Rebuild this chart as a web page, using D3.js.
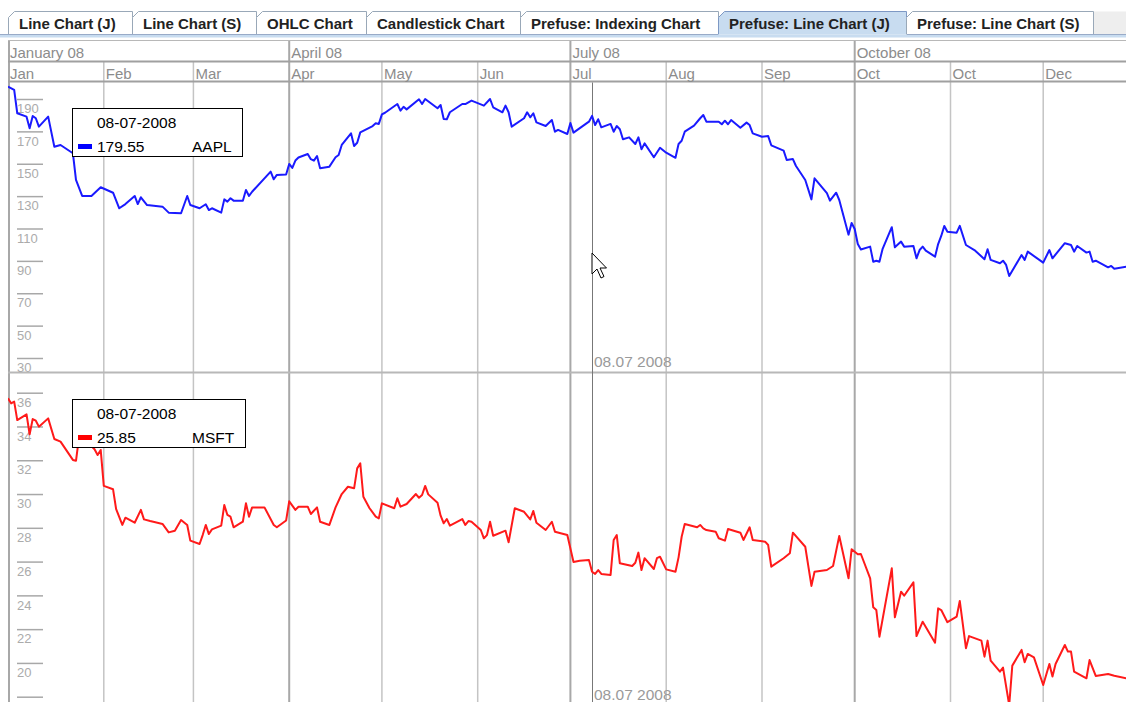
<!DOCTYPE html>
<html><head><meta charset="utf-8">
<script src="https://cdn.jsdelivr.net/npm/d3@7"></script>
<style>
html,body{margin:0;padding:0;background:#fff;overflow:hidden}
svg{display:block;font-family:"Liberation Sans",Arial,sans-serif}
</style></head>
<body><svg id="chart" width="1126" height="702"></svg>
<script>
// ---------- data ----------
const tabLabels = ["Line Chart (J)","Line Chart (S)","OHLC Chart","Candlestick Chart","Prefuse: Indexing Chart","Prefuse: Line Chart (J)","Prefuse: Line Chart (S)"];
const selectedTab = 5;
const quarterLabels = ["January 08","April 08","July 08","October 08"];
const monthLabels = ["Jan","Feb","Mar","Apr","May","Jun","Jul","Aug","Sep","Oct","Oct","Dec"];
const aaplTicks = [30,50,70,90,110,130,150,170,190];
const msftTicks = [18,20,22,24,26,28,30,32,34,36];
const msftTickLabels = ["","20","22","24","26","28","30","32","34","36"]; // 18 falls below the window edge
const cursorDayOfYear = 189;            // 08-07-2008
const cursorLabel = "08.07 2008";
const legendDate = "08-07-2008";
const aaplLegendValue = "179.55";
const msftLegendValue = "25.85";

// [day of year 2008 (0 = 1 Jan), closing price]
const aaplPoints = [[0,197.6],[2,195.6],[3,181.2],[6,179.1],[7,171.9],[8,179.5],[9,178.1],[10,172.9],[13,179.1],[15,160.5],[17,161.6],[21,156.5],[22,140.0],[24,130.1],[27,130.1],[30,135.5],[34,132.1],[36,122.5],[38,125.1],[41,130.1],[42,125.1],[43,129.3],[45,124.5],[50,123.5],[52,119.8],[56,119.4],[58,130.1],[59,124.5],[62,122.5],[64,125.0],[65,121.4],[66,122.5],[69,119.8],[70,128.0],[71,126.6],[72,128.7],[73,127.2],[76,127.2],[77,133.8],[78,130.1],[79,132.7],[85,145.1],[86,140.4],[87,143.1],[90,143.4],[91,149.9],[92,147.4],[93,152.0],[94,153.9],[97,156.0],[98,152.8],[99,151.9],[100,154.8],[101,147.2],[104,148.2],[106,154.0],[107,155.4],[108,161.6],[111,168.8],[112,161.0],[113,163.0],[114,169.4],[118,173.3],[119,175.0],[120,174.6],[121,180.5],[122,181.5],[126,186.9],[127,182.8],[128,185.2],[129,183.6],[133,189.8],[134,186.9],[135,190.0],[139,184.3],[140,186.3],[141,177.7],[142,177.5],[143,181.8],[147,186.9],[148,186.9],[150,189.0],[154,185.9],[156,190.0],[157,184.9],[160,181.8],[161,185.9],[162,181.8],[163,172.9],[167,178.1],[168,181.8],[169,178.7],[170,181.2],[171,175.6],[174,173.3],[176,177.0],[177,169.8],[178,170.9],[181,168.4],[182,175.2],[183,169.2],[188,176.0],[189,179.55],[190,173.9],[191,177.5],[192,172.5],[195,174.6],[196,169.8],[197,173.3],[198,171.3],[199,165.1],[201,166.3],[203,162.2],[204,166.3],[205,158.9],[206,162.6],[209,154.0],[211,159.9],[213,156.8],[216,153.7],[217,162.2],[218,164.2],[219,169.8],[222,173.5],[224,178.1],[225,180.1],[226,176.0],[230,176.0],[231,174.4],[232,176.6],[233,174.4],[234,177.0],[237,172.3],[239,175.4],[240,173.9],[241,168.8],[244,166.7],[246,167.1],[247,161.4],[251,158.1],[252,152.3],[254,152.9],[255,148.6],[258,140.0],[260,128.0],[261,141.0],[265,131.8],[266,127.2],[268,132.1],[269,127.6],[272,106.2],[273,113.4],[274,109.7],[275,100.4],[276,97.0],[279,98.8],[280,89.5],[281,90.1],[282,89.5],[283,97.2],[286,110.8],[287,98.4],[289,101.9],[290,98.8],[293,99.2],[294,91.6],[295,96.7],[296,98.8],[297,96.3],[300,92.6],[301,100.4],[302,105.4],[303,111.6],[304,108.0],[307,107.4],[308,111.6],[310,99.8],[313,96.3],[316,91.0],[317,97.2],[318,90.6],[321,88.5],[322,90.1],[323,87.5],[324,80.7],[328,93.6],[329,90.6],[330,95.7],[335,88.9],[337,96.7],[338,91.6],[342,100.9],[344,99.8],[345,95.7],[346,99.2],[349,95.1],[350,95.7],[351,89.5],[352,90.1],[356,86.0],[357,86.9],[358,85.2],[362,86.4],[365,85.4]];

const msftPoints = [[0,35.67],[1,35.37],[2,35.47],[3,34.38],[6,34.72],[7,33.54],[8,34.44],[9,34.34],[10,33.99],[13,34.48],[15,33.26],[17,33.10],[21,32.02],[22,31.97],[23,33.38],[25,33.2],[28,32.65],[29,32.31],[30,32.61],[31,30.48],[34,30.28],[35,29.1],[37,28.17],[38,28.6],[41,28.3],[43,29.06],[44,28.5],[46,28.4],[50,28.23],[52,27.73],[54,27.83],[56,28.46],[58,28.17],[59,27.24],[62,27.04],[63,27.57],[64,28.17],[65,27.63],[66,27.91],[69,28.13],[70,29.35],[71,28.76],[72,28.66],[73,28.03],[76,28.36],[77,29.45],[78,28.66],[79,29.21],[83,29.21],[86,28.17],[87,28.03],[90,28.43],[91,29.57],[93,29.06],[94,29.25],[97,29.25],[98,28.82],[100,29.21],[101,28.36],[104,28.17],[106,29.21],[108,30.0],[110,30.43],[112,30.34],[113,31.52],[114,31.82],[115,29.84],[117,29.16],[119,28.66],[120,28.56],[121,29.45],[125,29.16],[126,29.75],[127,29.25],[129,29.41],[132,30.0],[133,29.78],[134,29.94],[135,30.48],[136,29.98],[139,29.49],[140,28.72],[141,28.27],[142,28.52],[143,28.13],[147,28.52],[148,28.17],[149,28.4],[150,28.36],[153,27.87],[154,27.38],[155,27.57],[156,28.36],[157,27.53],[161,27.83],[162,27.14],[164,29.16],[167,28.95],[169,28.5],[170,29.0],[171,28.3],[174,27.87],[176,28.36],[177,27.77],[181,27.57],[183,25.98],[185,26.05],[188,26.09],[189,25.4],[190,25.27],[191,25.5],[192,25.27],[195,25.21],[196,27.28],[197,27.57],[198,25.9],[202,25.74],[203,25.93],[204,26.53],[205,25.5],[206,26.2],[209,25.56],[210,26.2],[211,26.29],[213,25.54],[216,25.4],[217,26.25],[218,27.47],[219,28.23],[223,28.03],[224,28.17],[225,27.97],[226,27.87],[229,27.77],[230,27.38],[232,27.24],[233,27.93],[237,27.71],[238,27.28],[240,28.03],[241,27.28],[245,27.18],[246,26.98],[247,25.7],[251,26.2],[253,26.49],[254,27.71],[258,26.88],[260,24.56],[261,25.4],[265,25.5],[267,25.74],[269,27.52],[272,25.01],[273,26.73],[275,26.43],[276,26.45],[279,25.01],[280,23.29],[281,23.13],[282,21.55],[286,25.6],[287,22.7],[289,24.22],[290,23.98],[293,24.77],[294,21.59],[296,22.44],[300,21.2],[301,23.23],[302,23.13],[304,22.41],[307,22.74],[308,23.67],[310,20.87],[311,21.59],[315,21.32],[316,20.37],[317,21.32],[318,20.13],[321,19.48],[322,19.72],[324,17.5],[325,19.84],[328,20.77],[329,20.04],[330,20.53],[332,20.33],[335,18.69],[337,19.94],[338,19.19],[339,19.94],[342,21.06],[343,20.67],[344,20.67],[345,19.48],[349,19.09],[350,20.17],[352,19.23],[356,19.34],[358,19.24],[362,19.09],[365,19.0]];

// ---------- layout ----------
const W = 1126, H = 702;
const yearStart = new Date(2008,0,1), yearEnd = new Date(2009,0,1);
const dayToDate = d => d3.timeDay.offset(yearStart, d);
const x = d3.scaleTime().domain([yearStart, yearEnd]).range([8, 1139]);
const plotLeft = 8;
const headTop = 40.5, headMid = 61.5, headBottom = 81.5, divider = 372.5;
const topPanel = {y0: headBottom, y1: divider - 1};
const botPanel = {y0: divider + 1, y1: H};
const yA = d3.scaleLinear().domain([30,190]).range([358,99]);
const yM = d3.scaleLinear().domain([18,36]).range([696.7,392.7]);

const svg = d3.select("#chart");
svg.append("rect").attr("width",W).attr("height",H).attr("fill","#fff");

// ---------- tabs ----------
const tabEdges = [8,132,256,366,520,718,906,1093];
const tabTop = 11.5, tabBot = 34.5;
const tabG = svg.append("g");
tabG.append("rect").attr("x",1093).attr("y",tabTop).attr("width",W-1093).attr("height",tabBot-tabTop).attr("fill","#eeeeee");
tabLabels.forEach((t,i)=>{
  const x0 = tabEdges[i]+0.5, x1 = tabEdges[i+1]+0.5;
  const p = d3.path();
  p.moveTo(x0,tabBot); p.lineTo(x0,tabTop+6); p.lineTo(x0+6,tabTop); p.lineTo(x1,tabTop); p.lineTo(x1,tabBot);
  tabG.append("path").attr("d",p.toString())
    .attr("fill", i===selectedTab ? "#c8dcf0" : "#ffffff")
    .attr("stroke", i===selectedTab ? "#7d98c4" : "#99a8b8").attr("stroke-width",1);
  tabG.append("text").attr("x",tabEdges[i]+11).attr("y",29)
    .attr("font-size","15px").attr("font-weight","bold").attr("fill","#222").text(t);
});
tabG.append("rect").attr("x",0).attr("y",tabBot).attr("width",W).attr("height",3).attr("fill","#c8dcf0");
tabG.append("line").attr("x1",0).attr("x2",tabEdges[selectedTab]).attr("y1",tabBot).attr("y2",tabBot).attr("stroke","#99abc8");
tabG.append("line").attr("x1",tabEdges[selectedTab+1]+1).attr("x2",W).attr("y1",tabBot).attr("y2",tabBot).attr("stroke","#99abc8");

// ---------- header ----------
const months = d3.timeMonth.range(yearStart, yearEnd);
const quarters = months.filter(m => m.getMonth()%3===0);
const grid = svg.append("g");
grid.selectAll(".mline").data(months.filter(m=>m.getMonth()%3!==0)).join("line")
  .attr("x1",d=>x(d)).attr("x2",d=>x(d)).attr("y1",headMid).attr("y2",H)
  .attr("stroke","#c4c4c4").attr("stroke-width",1.5);
grid.selectAll(".qline").data(quarters).join("line")
  .attr("x1",d=>Math.max(x(d),plotLeft+1)).attr("x2",d=>Math.max(x(d),plotLeft+1)).attr("y1",headTop).attr("y2",H)
  .attr("stroke","#a8a8a8").attr("stroke-width",2);
[headTop, headMid, headBottom].forEach(yy=>{
  grid.append("line").attr("x1",plotLeft).attr("x2",W).attr("y1",yy).attr("y2",yy)
    .attr("stroke", yy===headTop ? "#b8b8b8" : "#a0a0a0").attr("stroke-width",yy===headTop?1:2);
});
grid.append("line").attr("x1",plotLeft).attr("x2",W).attr("y1",divider).attr("y2",divider)
  .attr("stroke","#b8b8b8").attr("stroke-width",2);

svg.append("g").selectAll("text").data(quarters).join("text")
  .attr("x",d=>Math.max(x(d),plotLeft)+2).attr("y",57.5)
  .attr("font-size","15px").attr("fill","#8c8c8c").text((d,i)=>quarterLabels[i]);
svg.append("g").selectAll("text").data(months).join("text")
  .attr("x",d=>Math.max(x(d),plotLeft)+2).attr("y",78.5)
  .attr("font-size","15px").attr("fill","#8c8c8c").text((d,i)=>monthLabels[i]);

// ---------- y axes ----------
function yAxis(scale, ticks, labels){
  const axis = d3.axisRight(scale).tickValues(ticks).tickSize(26).tickPadding(0);
  if (labels) axis.tickFormat((d,i)=>labels[i]);
  const g = svg.append("g").attr("transform","translate(17,0)").call(axis);
  g.select(".domain").remove();
  g.selectAll(".tick line").attr("stroke","#a8a8a8").attr("stroke-width",1.5);
  g.selectAll(".tick text").attr("x",0).attr("dy","1.05em").attr("text-anchor","start")
    .attr("fill","#ababab").attr("font-size","13px").attr("font-family","'Liberation Sans',Arial,sans-serif");
  return g;
}
yAxis(yA, aaplTicks);
yAxis(yM, msftTicks, msftTickLabels);

// ---------- clip paths ----------
const defs = svg.append("defs");
defs.append("clipPath").attr("id","clipTop").append("rect")
  .attr("x",plotLeft).attr("y",topPanel.y0).attr("width",W-plotLeft).attr("height",topPanel.y1-topPanel.y0);
defs.append("clipPath").attr("id","clipBot").append("rect")
  .attr("x",plotLeft).attr("y",botPanel.y0).attr("width",W-plotLeft).attr("height",botPanel.y1-botPanel.y0);

// ---------- cursor ----------
const cx = Math.round(x(dayToDate(cursorDayOfYear)))+0.5;
svg.append("line").attr("x1",cx).attr("x2",cx).attr("y1",headBottom+1).attr("y2",H)
  .attr("stroke","#777").attr("stroke-width",1);
svg.append("text").attr("x",cx+1.5).attr("y",367).attr("font-size","15.5px").attr("fill","#9a9a9a").text(cursorLabel);
svg.append("text").attr("x",cx+1.5).attr("y",699.5).attr("font-size","15.5px").attr("fill","#9a9a9a").text(cursorLabel);

// ---------- lines ----------
const lineA = d3.line().x(d=>x(dayToDate(d[0]))).y(d=>yA(d[1]));
const lineM = d3.line().x(d=>x(dayToDate(d[0]))).y(d=>yM(d[1]));
svg.append("path").attr("clip-path","url(#clipTop)").attr("d",lineA(aaplPoints))
  .attr("fill","none").attr("stroke","#1a1aff").attr("stroke-width",2).attr("stroke-linejoin","round");
svg.append("path").attr("clip-path","url(#clipBot)").attr("d",lineM(msftPoints))
  .attr("fill","none").attr("stroke","#ff1a1a").attr("stroke-width",2).attr("stroke-linejoin","round");

// ---------- legends ----------
function legend(y0, w, color, value, name){
  const g = svg.append("g");
  g.append("rect").attr("x",72.5).attr("y",y0+0.5).attr("width",w).attr("height",48)
    .attr("fill","#fff").attr("stroke","#000").attr("stroke-width",1);
  g.append("text").attr("x",97).attr("y",y0+20).attr("font-size","15.5px").attr("fill","#000").text(legendDate);
  g.append("rect").attr("x",78).attr("y",y0+36).attr("width",14).attr("height",5).attr("fill",color);
  g.append("text").attr("x",97).attr("y",y0+44).attr("font-size","15.5px").attr("fill","#000").text(value);
  g.append("text").attr("x",192).attr("y",y0+44).attr("font-size","15.5px").attr("fill","#000").text(name);
}
legend(108, 170, "#0000ff", aaplLegendValue, "AAPL");
legend(399, 173, "#ff0000", msftLegendValue, "MSFT");

// ---------- mouse pointer ----------
const px = cx - 0.5, py = 253;
const arrow = [[0,0],[0,21],[5,16],[9,25],[12,23.5],[8,15],[14.5,15]];
svg.append("path").attr("d", d3.line()(arrow.map(p=>[px+p[0], py+p[1]])) + "Z")
  .attr("fill","#fff").attr("stroke","#000").attr("stroke-width",1);
</script></body></html>
